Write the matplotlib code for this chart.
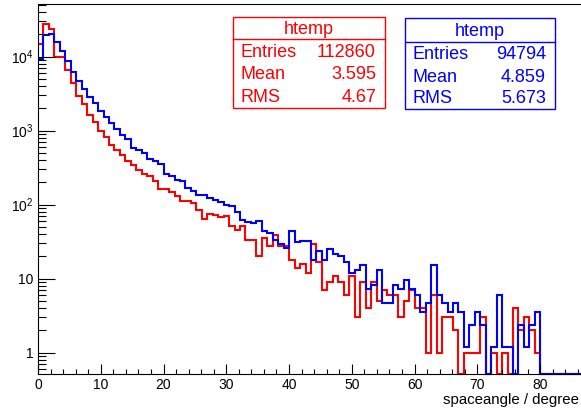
import numpy as np
import matplotlib
matplotlib.use("Agg")
import matplotlib.pyplot as plt
from matplotlib.patches import Rectangle
from matplotlib.lines import Line2D
from matplotlib.transforms import Affine2D
from matplotlib.ticker import LogLocator, MultipleLocator, NullFormatter

plt.rcParams['font.family'] = ['Liberation Sans', 'DejaVu Sans']
plt.rcParams['mathtext.fontset'] = 'custom'
plt.rcParams['mathtext.rm'] = 'Liberation Sans'
plt.rcParams['mathtext.it'] = 'Liberation Sans:italic'

# htemp binning: 100 bins on [0, 87] degrees
x_lo, x_hi, n_bins = 0.0, 87.0, 100

red_counts = [
    14800, 28000, 23800, 10000, 9900, 6530, 4390, 2950, 2320, 1650,
    1300, 990, 810, 648, 553, 474, 385, 340, 298, 263,
    241, 207, 164, 162, 149, 129, 113, 113, 105, 86,
    64, 75, 72, 68, 71, 51, 46, 52, 33, 33,
    20, 35, 28, 39, 28, 28, 18, 14, 16, 12,
    29, 17, 7, 9, 11, 9, 6, 11, 3, 9,
    4, 9, 5, 7, 6, 6, 3, 5, 7, 4,
    4, 1, 6, 1, 3, 3, 2, 0, 1, 1,
    1, 3, 0, 1, 0, 1, 0, 4, 2, 3,
    2, 1, 0, 0, 0, 0, 0, 0, 0, 0,
]

blue_counts = [
    7730, 16640, 17060, 13190, 10080, 7310, 5290, 3890, 3075, 2430,
    1975, 1555, 1277, 1050, 874, 739, 639, 487, 466, 418,
    353, 324, 302, 220, 205, 183, 174, 143, 127, 113,
    115, 103, 97, 92, 82, 80, 66, 52, 49, 48,
    50, 37, 35, 28, 25, 22, 37, 26, 27, 27,
    15, 20, 15, 21, 18, 17, 14, 10, 11, 13,
    6, 7, 11, 4, 4, 7, 6, 8, 6, 5,
    3, 4, 13, 5, 4, 3, 4, 3, 1, 2,
    3, 2, 0, 1, 5, 1, 1, 0, 2, 1,
    2, 3, 0, 0, 0, 0, 0, 0, 0, 0,
]

stat_names = ["Entries", "Mean", "RMS"]
red_stats = ["112860", "3.595", "4.67"]
blue_stats = ["94794", "4.859", "5.673"]
red_entries, blue_entries = 112860, 94794

x_ticks = [0, 10, 20, 30, 40, 50, 60, 70, 80]
y_ticks = [1, 10, 100, 1000, 10000]
y_tick_labels = ["1", "10", r"$10^{2}$", r"$10^{3}$", r"$10^{4}$"]

ymin, ymax = 0.515, 5.15e4
edges = np.linspace(x_lo, x_hi, n_bins + 1)

red = np.array(red_counts, float)
# second sample scaled to the entries of the first
blue = np.array(blue_counts, float) * red_entries / blue_entries

W, H = 581, 412
fig = plt.figure(figsize=(W / 100, H / 100), dpi=100)
ax = fig.add_axes([38 / W, 38 / H, 546 / W, 370 / H])

# empty bins sit on the bottom of the frame, like ROOT does on a log axis
for vals, col in [(red, "#ff0000"), (blue, "#0000ff")]:
    v = np.where(vals > 0, vals, ymin)
    ax.stairs(v, edges, baseline=None, color=col, lw=1.5, clip_on=False)

ax.set_yscale("log")
ax.set_xlim(x_lo, x_hi)
ax.set_ylim(ymin, ymax)

ax.set_xticks(x_ticks, [str(t) for t in x_ticks])
ax.xaxis.set_minor_locator(MultipleLocator(2))
ax.set_yticks(y_ticks, y_tick_labels)
ax.yaxis.set_minor_locator(LogLocator(base=10, subs=np.arange(2, 10), numticks=20))
ax.yaxis.set_minor_formatter(NullFormatter())

ax.tick_params(which="both", direction="in", top=False, right=False,
               width=0.8, color="black", labelsize=10)
ax.tick_params(axis="x", which="major", length=7.5, pad=3)
ax.tick_params(axis="x", which="minor", length=3.7)
ax.tick_params(axis="y", which="major", length=12, pad=3.5)
ax.tick_params(axis="y", which="minor", length=6)
for s in ax.spines.values():
    s.set_linewidth(0.8)

# pixel coordinates measured from the top-left corner of the canvas
px = Affine2D().scale(1 / W, -1 / H).translate(0, 1) + fig.transFigure

fig.text(579, 404, "spaceangle / degree", transform=px, ha="right",
         va="baseline", fontsize=10.8)


def stat_box(x0, x1, y0, y_sep, y1, color, stats, name_x, val_x, title_y, row_ys):
    fig.add_artist(Rectangle((x0, y0), x1 - x0, y1 - y0, transform=px,
                             facecolor="white", edgecolor=color, lw=1.0))
    fig.add_artist(Line2D([x0, x1], [y_sep, y_sep], transform=px,
                          color=color, lw=1.0))
    fig.text((x0 + x1) / 2, title_y, "htemp", transform=px, ha="center",
             va="baseline", color=color, fontsize=13)
    for name, val, yb in zip(stat_names, stats, row_ys):
        fig.text(name_x, yb, name, transform=px, ha="left", va="baseline",
                 color=color, fontsize=13)
        fig.text(val_x, yb, val, transform=px, ha="right", va="baseline",
                 color=color, fontsize=13)


stat_box(233.3, 385, 16.7, 39.3, 108.3, "#ff0000", red_stats,
         240.7, 376, 34, [56.7, 79.3, 102.3])
stat_box(405, 555, 18.3, 41.7, 109.3, "#0000ff", blue_stats,
         412.7, 546, 36, [59, 81.7, 103.3])

fig.savefig("out.png", dpi=100)
